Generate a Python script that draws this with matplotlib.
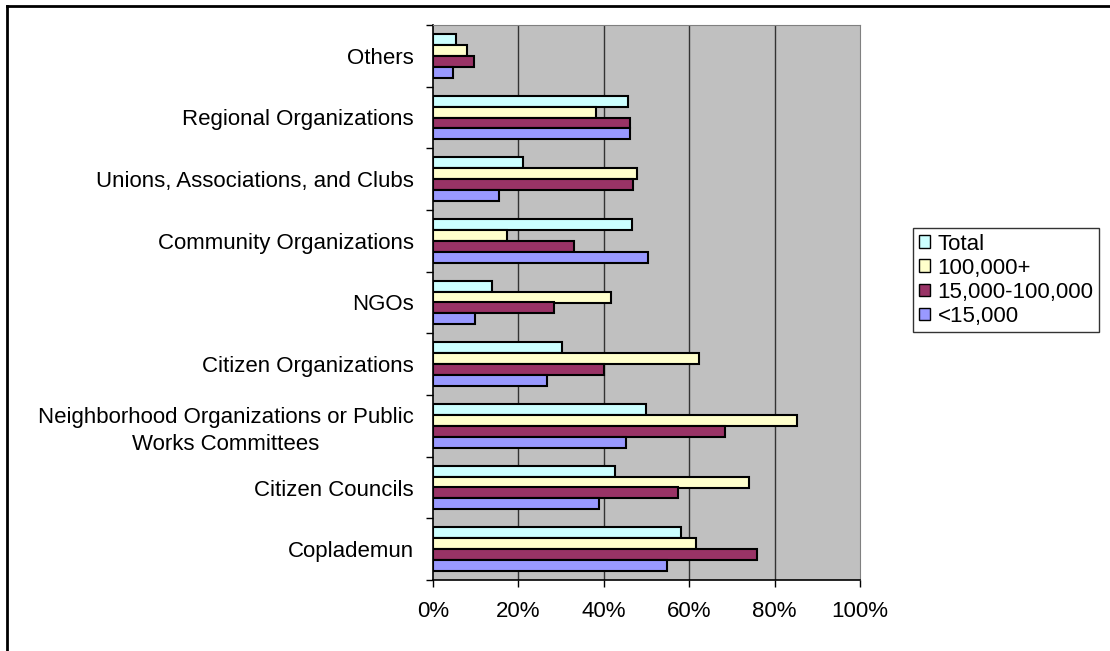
import numpy as np
import matplotlib
matplotlib.use("Agg")
import matplotlib.pyplot as plt
from matplotlib.patches import Patch
from matplotlib.lines import Line2D

plt.rcParams['font.family'] = ['Liberation Sans', 'DejaVu Sans']

categories = [
    "Coplademun",
    "Citizen Councils",
    "Neighborhood Organizations or Public\nWorks Committees",
    "Citizen Organizations",
    "NGOs",
    "Community Organizations",
    "Unions, Associations, and Clubs",
    "Regional Organizations",
    "Others",
]

series_names = ["Total", "100,000+", "15,000-100,000", "<15,000"]

total = [58.1, 42.7, 49.9, 30.1, 13.8, 46.6, 21.0, 45.6, 5.5]
large = [61.6, 74.1, 85.3, 62.4, 41.6, 17.4, 47.8, 38.2, 8.0]
medium = [75.9, 57.3, 68.5, 40.0, 28.4, 33.0, 46.9, 46.1, 9.5]
small = [54.8, 38.8, 45.2, 26.6, 9.8, 50.3, 15.4, 46.1, 4.6]

series_values = [total, large, medium, small]
colors = ["#CCFFFF", "#FFFFCC", "#993366", "#9999FF"]

xticks = [0, 20, 40, 60, 80, 100]
xtick_labels = ["0%", "20%", "40%", "60%", "80%", "100%"]

FS = 16

fig = plt.figure(figsize=(11.1, 6.51), dpi=100)
W, H = 1110, 651
ax = fig.add_axes([433 / W, 1 - 580 / H, (860 - 433) / W, (580 - 25) / H])
ax.set_facecolor("#C0C0C0")

y = np.arange(len(categories))
bar_h = 0.178
offsets = [1.5, 0.5, -0.5, -1.5]
for vals, col, off, name in zip(series_values, colors, offsets, series_names):
    ax.barh(y + off * bar_h, vals, height=bar_h, color=col,
            edgecolor="black", linewidth=1.5, label=name, zorder=3)

ax.set_xlim(0, 100)
ax.set_ylim(-0.5, len(categories) - 0.5)

ax.set_xticks(xticks)
ax.set_xticklabels(xtick_labels, fontsize=FS)
ax.tick_params(axis="x", direction="out", length=5, width=1, pad=10, colors="black")
for xv in xticks[1:-1]:
    ax.axvline(xv, color="#333333", linewidth=1, zorder=1)

ax.set_yticks(y)
ax.set_yticklabels(categories, fontsize=FS, multialignment="center", linespacing=1.35)
ax.tick_params(axis="y", which="major", length=0, pad=14)
ax.set_yticks(np.arange(-0.5, len(categories), 1.0), minor=True)
ax.tick_params(axis="y", which="minor", direction="out", length=5, width=1)

ax.spines["left"].set_color("black")
ax.spines["bottom"].set_color("black")
ax.spines["left"].set_linewidth(1.2)
ax.spines["bottom"].set_linewidth(1.2)
ax.spines["top"].set_color("#808080")
ax.spines["right"].set_color("#808080")

handles = [Patch(facecolor=c, edgecolor="black", linewidth=1, label=n)
           for c, n in zip(colors, series_names)]
leg = fig.legend(handles=handles, loc="upper left",
                 bbox_to_anchor=(913 / W, 1 - 228 / H), fontsize=FS,
                 frameon=True, fancybox=False, edgecolor="black",
                 handlelength=0.5, handleheight=0.5, handletextpad=0.35,
                 labelspacing=0.14, borderpad=0.25, borderaxespad=0)
leg.get_frame().set_linewidth(1)

# outer chart border (top and left edges)
fig.add_artist(Line2D([7 / W, 7 / W], [0, 1 - 6 / H], transform=fig.transFigure,
                      color="black", linewidth=2))
fig.add_artist(Line2D([7 / W, 1], [1 - 6 / H, 1 - 6 / H], transform=fig.transFigure,
                      color="black", linewidth=2))

fig.savefig("out.png", dpi=100)
